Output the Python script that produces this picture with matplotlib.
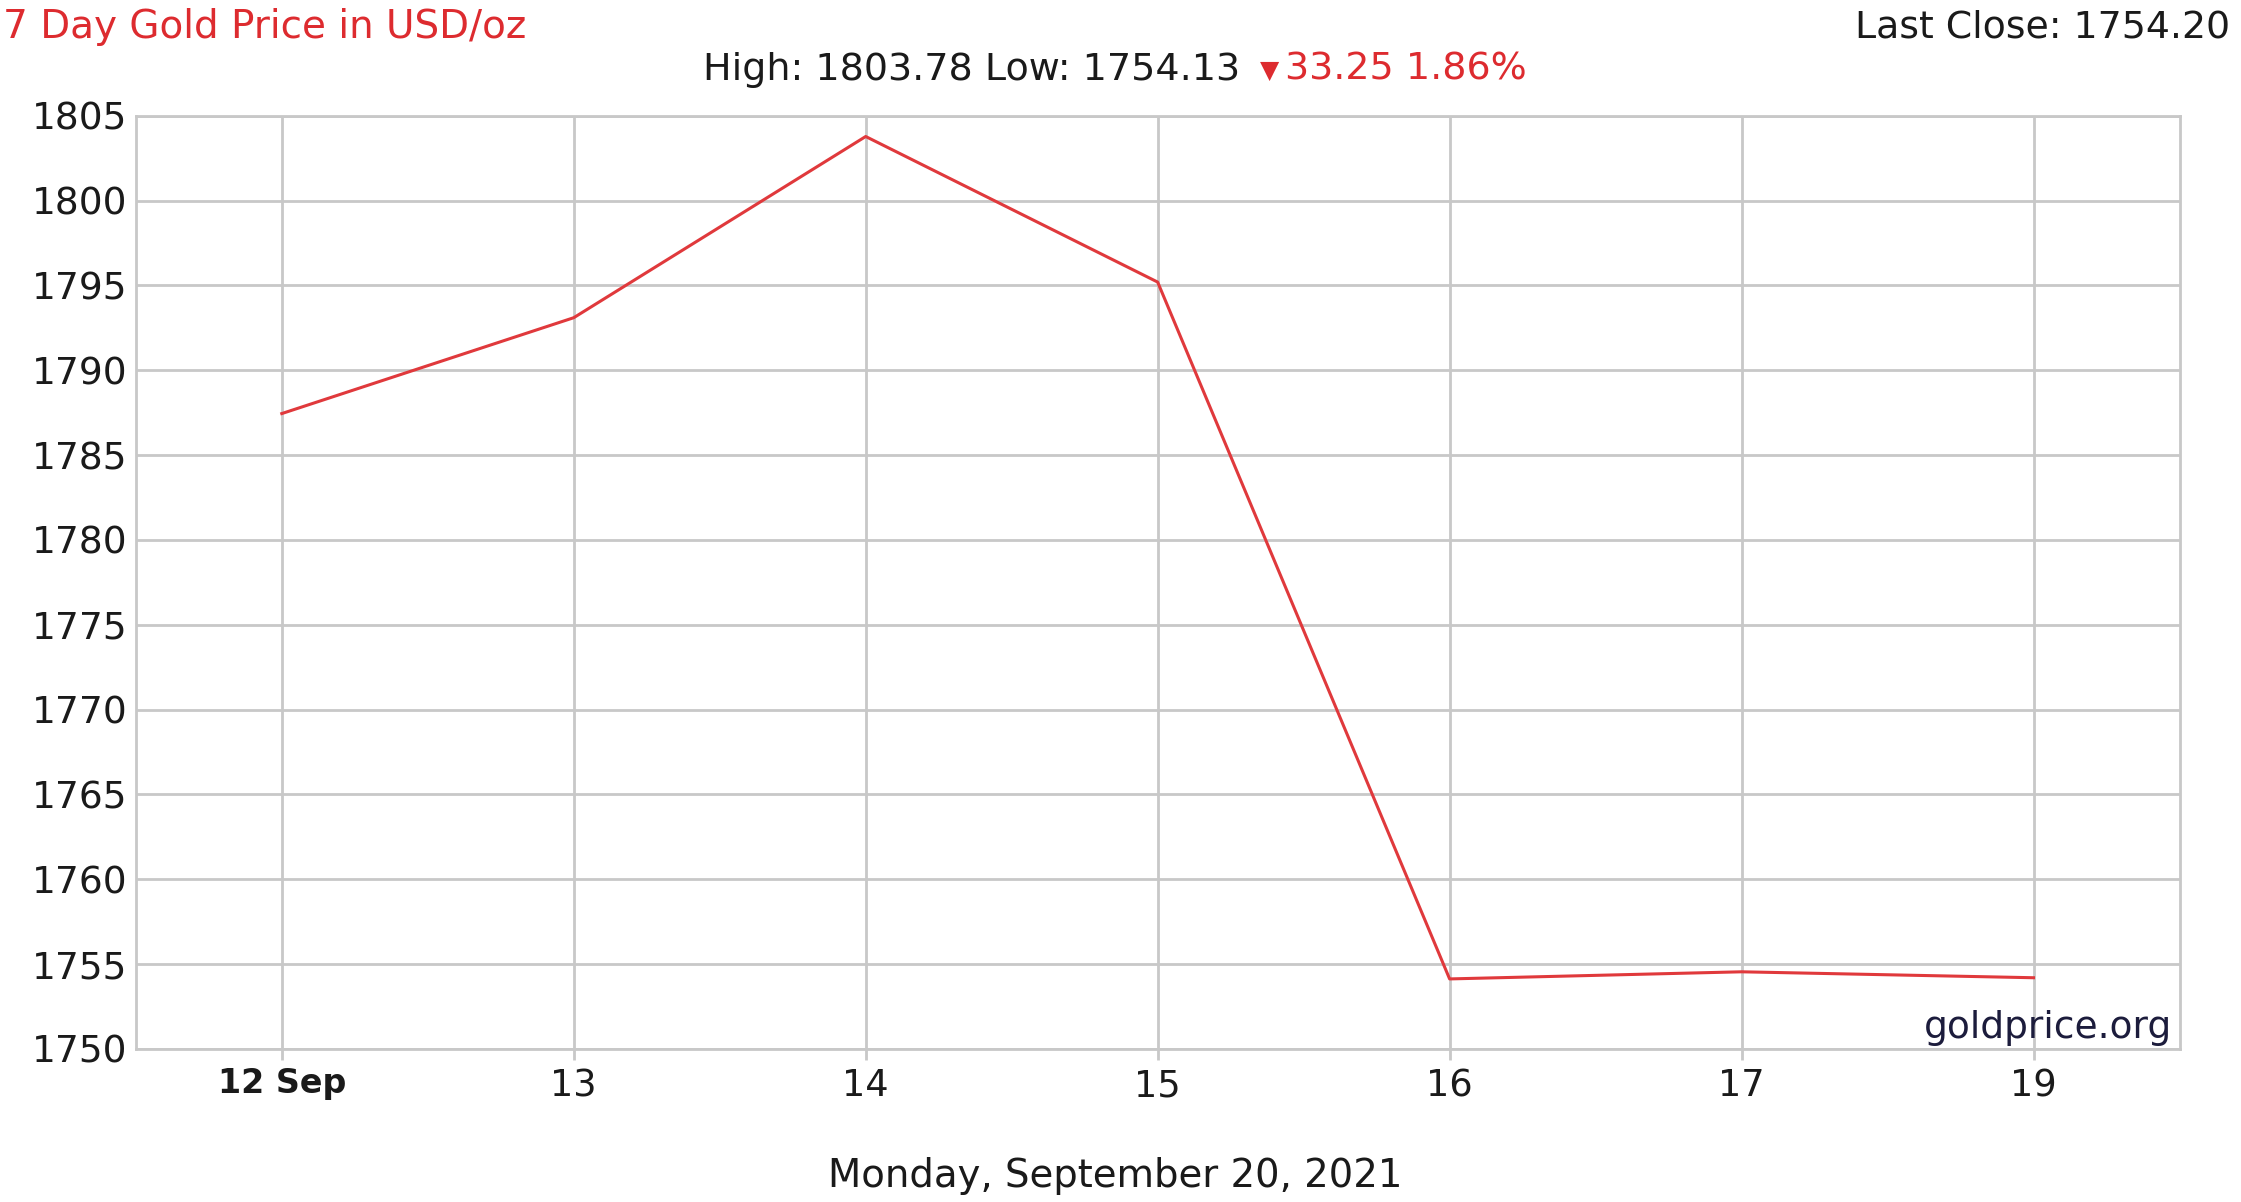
import matplotlib
matplotlib.use("Agg")
import matplotlib.pyplot as plt

# ---- data ----
dates = ["12 Sep", "13", "14", "15", "16", "17", "19"]
prices = [1787.45, 1793.10, 1803.78, 1795.20, 1754.13, 1754.55, 1754.20]
y_ticks = [1750, 1755, 1760, 1765, 1770, 1775, 1780, 1785, 1790, 1795, 1800, 1805]

title_text = "7 Day Gold Price in USD/oz"
last_close_text = "Last Close: 1754.20"
hl_text = "High: 1803.78 Low: 1754.13"
change_text = "33.25 1.86%"
date_text = "Monday, September 20, 2021"
source_text = "goldprice.org"

RED_LINE = "#e0393c"
RED_TEXT = "#dd2b2f"
GRID = "#c8c8c8"
TXT = "#1a1a1a"

plt.rcParams['font.family'] = ['DejaVu Sans']

W, H = 2241, 1202
fig = plt.figure(figsize=(W / 100, H / 100), dpi=100)
ax = fig.add_axes([135.8 / W, 1 - 1049 / H, (2179.5 - 135.8) / W, (1049 - 115.8) / H])

x = list(range(len(dates)))
ax.plot(x, prices, color=RED_LINE, lw=2.2, zorder=3)

ax.set_xlim(-0.5, 6.5)
ax.set_ylim(1750, 1805)
ax.set_xticks(x)
ax.set_xticklabels(dates, fontsize=26.5, color=TXT)
lbl0 = ax.get_xticklabels()[0]
lbl0.set_fontweight("bold")
lbl0.set_fontsize(24)
ax.set_yticks(y_ticks)
ax.set_yticklabels([str(v) for v in y_ticks], fontsize=27, color=TXT)

ax.grid(True, color=GRID, lw=2)
ax.set_axisbelow(True)
for s in ax.spines.values():
    s.set_color(GRID)
    s.set_linewidth(2)
ax.tick_params(axis='x', length=8, width=2, color=GRID, pad=5)
ax.tick_params(axis='y', length=0, pad=6)

# texts
fig.text(3 / W, 1 - 27 / H, title_text, color=RED_TEXT, fontsize=28, ha='left', va='center')
fig.text(2230 / W, 1 - 27 / H, last_close_text, color=TXT, fontsize=27.3, ha='right', va='center')
fig.text(1240 / W, 1 - 70 / H, hl_text, color=TXT, fontsize=27.4, ha='right', va='center')
fig.text(1270 / W, 1 - 71 / H, "\u25BC", color=RED_TEXT, fontsize=18, ha='center', va='center')
fig.text(1285 / W, 1 - 70 / H, change_text, color=RED_TEXT, fontsize=27.4, ha='left', va='center')
fig.text(1115 / W, 1 - 1176 / H, date_text, color=TXT, fontsize=27.8, ha='center', va='center')
ax.text(0.9963, 0.023, source_text, color="#1c1c3c", fontsize=27, ha='right', va='center',
        transform=ax.transAxes)

fig.savefig("out.png", dpi=100, facecolor="white")
